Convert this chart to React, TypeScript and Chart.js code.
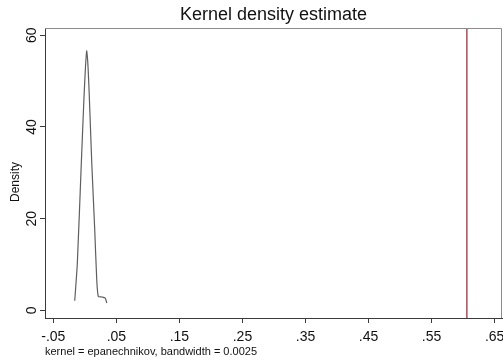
import React, { useEffect, useRef } from "react";
import { Chart, registerables } from "chart.js";

Chart.register(...registerables);

const densityX = [-0.016, -0.0119, -0.0056, -0.0013, 0.0011, 0.003, 0.0051, 0.0071, 0.011, 0.0157, 0.0189, 0.0214, 0.0273, 0.0321, 0.0348];
const densityY = [2.1, 10.3, 32.1, 46.6, 53.3, 56.6, 53.0, 46.6, 32.1, 17.5, 6.6, 3.0, 2.9, 2.7, 1.6];
const refLineX = 0.606;
const xTickValues = [-0.05, 0.05, 0.15, 0.25, 0.35, 0.45, 0.55, 0.65];
const xTickLabels = ["-.05", ".05", ".15", ".25", ".35", ".45", ".55", ".65"];
const yTickValues = [0, 20, 40, 60];
const yTickLabels = ["0", "20", "40", "60"];
const titleText = "Kernel density estimate";
const yTitleText = "Density";
const noteText = "kernel = epanechnikov, bandwidth = 0.0025";

const FONT = "'Liberation Sans', Arial, Helvetica, sans-serif";
const AXIS = "#3a3a3a";

const framePlugin = {
  id: "frame",
  afterDraw(chart: any) {
    const { ctx, chartArea } = chart;
    ctx.save();
    ctx.strokeStyle = "#8c8c8c";
    ctx.lineWidth = 1;
    ctx.beginPath();
    ctx.moveTo(chartArea.left, chartArea.top + 0.5);
    ctx.lineTo(chartArea.right - 0.5, chartArea.top + 0.5);
    ctx.lineTo(chartArea.right - 0.5, chartArea.bottom);
    ctx.stroke();
    // y-axis title, placed slightly below the plot-region centre as in the reference
    ctx.fillStyle = "#111";
    ctx.font = "12px " + FONT;
    ctx.textAlign = "center";
    ctx.textBaseline = "middle";
    ctx.translate(16, (chartArea.top + chartArea.bottom) / 2 + 9);
    ctx.rotate(-Math.PI / 2);
    ctx.fillText(yTitleText, 0, 0);
    ctx.restore();
  },
};

export default function App() {
  const ref = useRef<HTMLCanvasElement | null>(null);
  useEffect(() => {
    if (!ref.current) return;
    const chart = new Chart(ref.current, {
      type: "line",
      data: {
        datasets: [
          {
            data: densityX.map((x, i) => ({ x, y: densityY[i] })),
            borderColor: "#5f5f5f",
            borderWidth: 1.2,
            pointRadius: 0,
            tension: 0.2,
            fill: false,
          },
          {
            data: [
              { x: refLineX, y: -5 },
              { x: refLineX, y: 70 },
            ],
            borderColor: "#923340",
            borderWidth: 1.3,
            pointRadius: 0,
            fill: false,
          },
        ],
      },
      options: {
        animation: false,
        responsive: true,
        maintainAspectRatio: false,
        layout: { padding: { left: 0, right: 1, top: 0, bottom: 0 } },
        plugins: {
          legend: { display: false },
          tooltip: { enabled: false },
          title: {
            display: true,
            text: titleText,
            fullSize: false,
            color: "#111",
            font: { family: FONT, size: 18, weight: "normal", lineHeight: 1.2 },
            padding: { top: 4.5, bottom: 1.9 },
          },
        },
        scales: {
          x: {
            type: "linear",
            min: -0.0632,
            max: 0.6617,
            afterBuildTicks: (s: any) => {
              s.ticks = xTickValues.map((v) => ({ value: v }));
            },
            afterFit: (s: any) => {
              s.height = 44;
              s.paddingLeft = 0;
              s.paddingRight = 0;
            },
            ticks: {
              autoSkip: false,
              maxRotation: 0,
              minRotation: 0,
              padding: 6,
              color: "#111",
              font: { family: FONT, size: 14 },
              callback: (v: any) => {
                const i = xTickValues.findIndex((t) => Math.abs(t - Number(v)) < 1e-9);
                return i >= 0 ? xTickLabels[i] : "";
              },
            },
            grid: { drawOnChartArea: false, drawTicks: true, tickLength: 5, color: AXIS },
            border: { display: true, color: AXIS, width: 1 },
            title: {
              display: true,
              text: noteText,
              align: "start",
              color: "#111",
              font: { family: FONT, size: 11, lineHeight: 1.2 },
              padding: { top: 0, bottom: 3 },
            },
          },
          y: {
            type: "linear",
            min: -1.68,
            max: 61.59,
            afterBuildTicks: (s: any) => {
              s.ticks = yTickValues.map((v) => ({ value: v }));
            },
            afterFit: (s: any) => {
              s.width = 45;
              s.paddingTop = 0;
              s.paddingBottom = 0;
            },
            ticks: {
              autoSkip: false,
              minRotation: 90,
              maxRotation: 90,
              crossAlign: "center",
              padding: 0,
              color: "#111",
              font: { family: FONT, size: 14 },
              callback: (v: any) => {
                const i = yTickValues.findIndex((t) => Math.abs(t - Number(v)) < 1e-9);
                return i >= 0 ? yTickLabels[i] : "";
              },
            },
            grid: { drawOnChartArea: false, drawTicks: true, tickLength: 5, color: AXIS },
            border: { display: true, color: AXIS, width: 1 },
            title: { display: false },
          },
        },
      },
      plugins: [framePlugin],
    });
    return () => chart.destroy();
  }, []);
  return (
    <div style={{ position: "fixed", left: 0, top: 0, width: 503, height: 362, background: "#fff" }}>
      <canvas ref={ref} />
    </div>
  );
}
